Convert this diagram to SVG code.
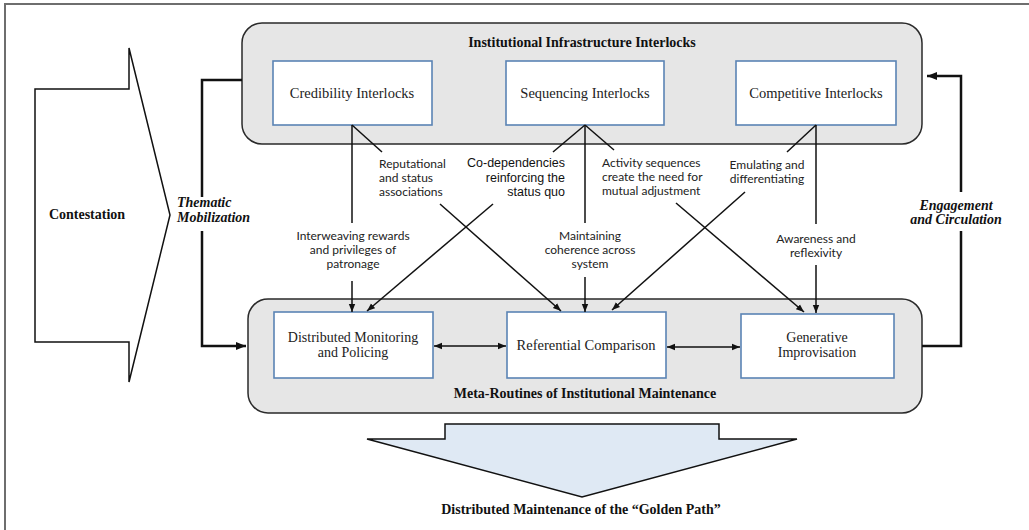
<svg xmlns="http://www.w3.org/2000/svg" width="1029" height="530" viewBox="0 0 1029 530">
<style>
.frame{fill:none;stroke:#6e6e6e;stroke-width:2}
.cont{fill:#e6e6e6;stroke:#2a2a2a;stroke-width:1.5}
.box{fill:#fff;stroke:#5b84b5;stroke-width:1.6}
.ser{font-family:"Liberation Serif",serif;font-size:14.5px;fill:#222;text-anchor:middle}
.ser2{font-family:"Liberation Serif",serif;font-size:14px;fill:#222;text-anchor:middle}
.hdr{font-family:"Liberation Serif",serif;font-size:14px;font-weight:bold;fill:#111;text-anchor:middle}
.bi{font-family:"Liberation Serif",serif;font-size:14px;font-weight:bold;font-style:italic;fill:#111}
.lbl{font-family:Lato,"Open Sans",sans-serif;font-size:12px;fill:#222}
.arial{font-family:"Liberation Sans",Arial,sans-serif;font-size:12.5px;fill:#111}
.ln{fill:none;stroke:#111;stroke-width:1.5}
.thick{fill:none;stroke:#111;stroke-width:2.5}
.shape{stroke:#111;stroke-width:1.5}
</style>
<defs>
<marker id="ah" viewBox="0 0 10 10" refX="10" refY="5" markerWidth="8" markerHeight="8" orient="auto-start-reverse" markerUnits="userSpaceOnUse">
<path d="M0,1 L10,5 L0,9 z" fill="#111"/>
</marker>
<marker id="ah3" viewBox="0 0 10 10" refX="10" refY="5" markerWidth="4" markerHeight="4" orient="auto-start-reverse">
<path d="M0,1 L10,5 L0,9 z" fill="#111"/>
</marker>
</defs>
<path class="frame" d="M5,530 V4 H1030"/>

<g id="contestation">
<polygon class="shape" fill="#fff" points="35,89 129,89 129,48 170,215 129,382 129,342 35,342"/>
<text class="hdr" x="87" y="219">Contestation</text>
</g>

<g id="infrastructure">
<rect class="cont" x="242" y="23" width="680" height="121" rx="20"/>
<text class="hdr" x="582" y="47">Institutional Infrastructure Interlocks</text>
</g>
<g id="credibility">
<rect class="box" x="273" y="61" width="159" height="64"/>
<text class="ser" x="352" y="98">Credibility Interlocks</text>
</g>
<g id="sequencing">
<rect class="box" x="506" y="61" width="158" height="64"/>
<text class="ser" x="585" y="98">Sequencing Interlocks</text>
</g>
<g id="competitive">
<rect class="box" x="736" y="61" width="160" height="64"/>
<text class="ser" x="816" y="98">Competitive Interlocks</text>
</g>

<g id="maintenance">
<rect class="cont" x="248" y="299" width="674" height="114" rx="20"/>
<text class="hdr" x="585" y="398">Meta-Routines of Institutional Maintenance</text>
</g>
<g id="monitoring">
<rect class="box" x="274" y="312" width="159" height="66"/>
<text class="ser2" x="353" y="342">Distributed Monitoring</text>
<text class="ser2" x="353" y="357">and Policing</text>
</g>
<g id="referential">
<rect class="box" x="507" y="312" width="159" height="66"/>
<text class="ser" x="586" y="350">Referential Comparison</text>
</g>
<g id="generative">
<rect class="box" x="741" y="314" width="153" height="64"/>
<text class="ser2" x="817" y="342">Generative</text>
<text class="ser2" x="817" y="357">Improvisation</text>
</g>

<g id="golden-path">
<polygon class="shape" fill="#dfe9f4" points="445,424 719,424 719,439 797,439 582,497 367,439 445,439"/>
<text class="hdr" x="581" y="514">Distributed Maintenance of the “Golden Path”</text>
</g>

<g id="connectors">
<polyline class="thick" points="242,80 202,80 202,197"/>
<polyline class="thick" points="202,231 202,346 246,346" marker-end="url(#ah3)"/>
<polyline class="thick" points="922,346 961,346 961,231"/>
<polyline class="thick" points="961,192 961,76 927,76" marker-end="url(#ah3)"/>

<line class="ln" x1="352" y1="125" x2="352" y2="223"/>
<line class="ln" x1="352" y1="281" x2="352" y2="312" marker-end="url(#ah)"/>
<line class="ln" x1="352" y1="125" x2="382" y2="152"/>
<line class="ln" x1="440" y1="204" x2="561" y2="311" marker-end="url(#ah)"/>

<line class="ln" x1="585" y1="125" x2="585" y2="223"/>
<line class="ln" x1="585" y1="277" x2="585" y2="312" marker-end="url(#ah)"/>
<line class="ln" x1="585" y1="125" x2="553" y2="152"/>
<line class="ln" x1="493" y1="204" x2="367" y2="311" marker-end="url(#ah)"/>
<line class="ln" x1="585" y1="125" x2="614" y2="150"/>
<line class="ln" x1="676" y1="203" x2="804" y2="312" marker-end="url(#ah)"/>

<line class="ln" x1="816" y1="125" x2="816" y2="224"/>
<line class="ln" x1="816" y1="265" x2="816" y2="313" marker-end="url(#ah)"/>
<line class="ln" x1="816" y1="125" x2="787" y2="152"/>
<line class="ln" x1="745" y1="192" x2="612" y2="310" marker-end="url(#ah)"/>

<line class="ln" x1="434" y1="346" x2="506" y2="346" marker-start="url(#ah)" marker-end="url(#ah)"/>
<line class="ln" x1="667" y1="347" x2="740" y2="347" marker-start="url(#ah)" marker-end="url(#ah)"/>
</g>

<g id="labels">
<text class="bi" x="177" y="207">Thematic</text>
<text class="bi" x="177" y="222">Mobilization</text>
<text class="bi" text-anchor="middle" x="956" y="210">Engagement</text>
<text class="bi" text-anchor="middle" x="956" y="224">and Circulation</text>

<text class="lbl" x="379" y="168">Reputational</text>
<text class="lbl" x="379" y="182">and status</text>
<text class="lbl" x="379" y="196">associations</text>

<text class="arial" text-anchor="end" x="565" y="167">Co-dependencies</text>
<text class="arial" text-anchor="end" x="565" y="182">reinforcing the</text>
<text class="arial" text-anchor="end" x="565" y="196">status quo</text>

<text class="lbl" x="602" y="167">Activity sequences</text>
<text class="lbl" x="602" y="181">create the need for</text>
<text class="lbl" x="602" y="195">mutual adjustment</text>

<text class="lbl" text-anchor="middle" x="767" y="169">Emulating and</text>
<text class="lbl" text-anchor="middle" x="767" y="183">differentiating</text>

<text class="lbl" text-anchor="middle" x="353" y="240">Interweaving rewards</text>
<text class="lbl" text-anchor="middle" x="353" y="254">and privileges of</text>
<text class="lbl" text-anchor="middle" x="353" y="268">patronage</text>

<text class="lbl" text-anchor="middle" x="590" y="240">Maintaining</text>
<text class="lbl" text-anchor="middle" x="590" y="254">coherence across</text>
<text class="lbl" text-anchor="middle" x="590" y="268">system</text>

<text class="lbl" text-anchor="middle" x="816" y="243">Awareness and</text>
<text class="lbl" text-anchor="middle" x="816" y="257">reflexivity</text>
</g>
</svg>
